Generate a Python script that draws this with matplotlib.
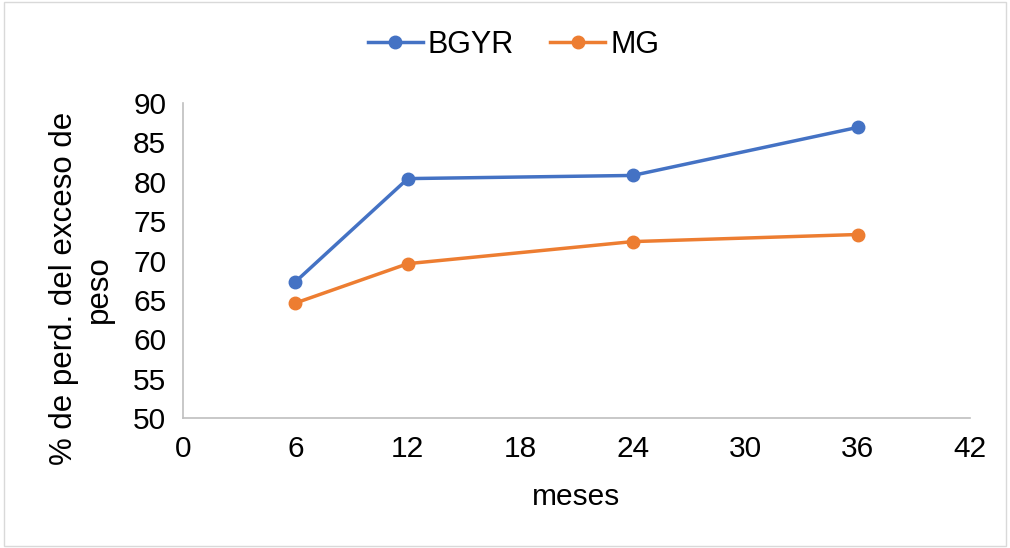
import matplotlib.pyplot as plt
import matplotlib.patches as patches

plt.rcParams['font.family'] = ['Liberation Sans', 'DejaVu Sans']

meses = [6, 12, 24, 36]
bgyr = [67.3, 80.4, 80.8, 86.9]
mg = [64.6, 69.6, 72.4, 73.3]
xticks = [0, 6, 12, 18, 24, 30, 36, 42]
yticks = [50, 55, 60, 65, 70, 75, 80, 85, 90]

blue = '#4472C4'
orange = '#ED7D31'

fig = plt.figure(figsize=(10.10, 5.48), dpi=100)
ax = fig.add_axes([183/1010, 1 - 418/548, (970-183)/1010, (418-103)/548])

ax.plot(meses, bgyr, color=blue, lw=2.5, marker='o', ms=9, label='BGYR')
ax.plot(meses, mg, color=orange, lw=2.5, marker='o', ms=9, label='MG')

ax.set_xlim(0, 42)
ax.set_ylim(50, 90)
ax.set_xticks(xticks)
ax.set_yticks(yticks)
ax.tick_params(labelsize=21.5, length=0, pad=12)
for s in ['top', 'right']:
    ax.spines[s].set_visible(False)
for s in ['left', 'bottom']:
    ax.spines[s].set_color('#BFBFBF')
    ax.spines[s].set_linewidth(1.2)

ax.set_xlabel('meses', fontsize=21.5)
ax.xaxis.set_label_coords(0.5, -0.205)
ax.set_ylabel('% de perd. del exceso de\npeso', fontsize=22.5)
ax.yaxis.set_label_coords(-0.088, 0.41)

leg = ax.legend(loc='lower center', bbox_to_anchor=(0.42, 1.05), ncol=2,
                frameon=False, fontsize=22, handlelength=1.8,
                columnspacing=1.2, handletextpad=0.15)

fig.patches.append(patches.Rectangle((0.004, 0.004), 0.992, 0.992,
                                     transform=fig.transFigure, fill=False,
                                     edgecolor='#D9D9D9', lw=1))

plt.savefig('out.png', dpi=100)
